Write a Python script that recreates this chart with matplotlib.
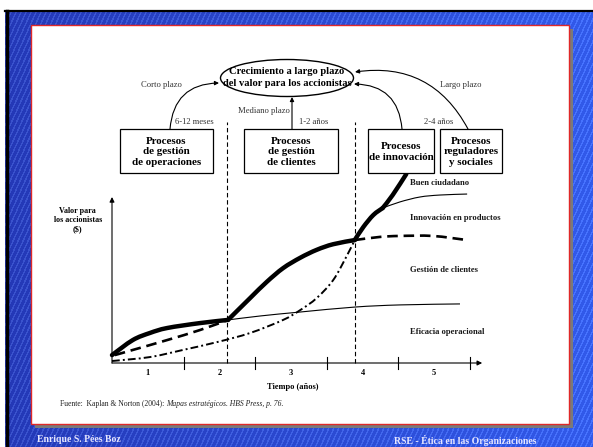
import numpy as np
import matplotlib
matplotlib.use("Agg")
import matplotlib.pyplot as plt
from matplotlib.patches import Rectangle, Ellipse, FancyArrowPatch, PathPatch
from matplotlib.path import Path

# ---------------- data (years, value index) ----------------
# thick envelope, split where it has corners
total_t = [0, 0.29, 0.53, 0.77, 1.23, 1.62, 1.93, 2.16, 2.39, 2.63, 2.86, 3.09, 3.39, 3.51, 3.65, 3.78, 3.92, 4.11]
total_v = [4.8, 13.9, 18.2, 21.2, 24.2, 26.1, 39.4, 49.1, 57.5, 63.8, 68.6, 72.0, 74.5, 82.4, 89.7, 93.9, 101.8, 114.5]
total_breaks = [5, 12, 15]

ops_t = [1.62, 2.07, 2.63, 3.39, 4.02, 4.86]
ops_v = [26.1, 28.5, 30.9, 33.9, 35.2, 35.8]

prod_t = [3.78, 4.02, 4.30, 4.58, 4.96]
prod_v = [93.9, 97.6, 100.6, 101.8, 102.4]

cli1_t = [0.04, 0.29, 0.77, 1.23, 1.62]
cli1_v = [4.8, 7.9, 13.9, 20.0, 26.1]
cli2_t = [3.39, 3.74, 4.02, 4.48, 4.96]
cli2_v = [74.5, 76.4, 77.0, 77.0, 74.5]

inn_t = [0, 0.53, 0.99, 1.47, 1.93, 2.39, 2.63, 2.86, 3.09, 3.28, 3.39]
inn_v = [1.2, 3.6, 7.9, 12.7, 18.2, 26.1, 32.1, 39.4, 50.3, 65.0, 74.5]

phase_t = [1.61, 3.39]
year_ticks = [1, 2, 3, 4, 5]
year_labels = ["1", "2", "3", "4", "5"]

curve_labels = ["Buen ciudadano", "Innovación en productos", "Gestión de clientes", "Eficacia operacional"]
box_labels = ["Procesos\nde gestión\nde operaciones", "Procesos\nde gestión\nde clientes",
              "Procesos\nde innovación", "Procesos\nreguladores\ny sociales"]


def smooth_path(xs, ys):
    """Catmull-Rom curve through the given points, as cubic Bezier path."""
    p = np.column_stack([xs, ys]).astype(float)
    verts = [p[0]]
    codes = [Path.MOVETO]
    n = len(p)
    for i in range(n - 1):
        p0 = p[i - 1] if i > 0 else p[i]
        p1, p2 = p[i], p[i + 1]
        p3 = p[i + 2] if i + 2 < n else p[i + 1]
        c1 = p1 + (p2 - p0) / 6.0
        c2 = p2 - (p3 - p1) / 6.0
        verts += [c1, c2, p2]
        codes += [Path.CURVE4] * 3
    return Path(verts, codes)


# ---------------- figure ----------------
W, H = 593, 447
fig = plt.figure(figsize=(W / 100, H / 100), dpi=100)
plt.rcParams['font.family'] = ['Liberation Serif', 'DejaVu Serif']

# background slide
bg = fig.add_axes([0, 0, 1, 1], zorder=0)
yy, xx = np.mgrid[0:H, 0:W]
fx = xx / W
r = 36 + 14 * fx
g = 56 + 34 * fx
b = 182 + 52 * fx
stripe = ((xx + 0.45 * yy) % 5.0) < 1.6
img = np.stack([r, g, b], axis=-1)
img[stripe] += np.array([22, 26, 22])
img = np.clip(img, 0, 255) / 255.0
img[:10, :, :] = 1.0
img[:, :5, :] = 1.0
bg.imshow(img, extent=(0, W, H, 0), interpolation='nearest', aspect='auto')
bg.set_xlim(0, W)
bg.set_ylim(H, 0)
bg.axis('off')
bg.plot([5, W], [11, 11], color='black', lw=1.6)
bg.plot([7, 7], [11, H], color='black', lw=2.5)
bg.add_patch(Rectangle((35, 29), 538, 399, facecolor='#7a7a7a', edgecolor='none'))
bg.add_patch(Rectangle((31, 25), 538, 399, facecolor='white', edgecolor='#e02828', lw=1.0))
bg.text(37, 440, "Enrique S. Pées Boz", color='#e6e6ff', fontsize=7, fontweight='bold', va='center', ha='left')
bg.text(536, 440, "RSE - Ética en las Organizaciones", color='#e6e6ff', fontsize=7, fontweight='bold',
        va='center', ha='right')
bg.text(60, 404, "Fuente:  Kaplan & Norton (2004):", fontsize=5.5, va='center', ha='left', color='#222222')
bg.text(166, 404, "Mapas estratégicos. HBS Press, p. 76.", fontsize=5.5, va='center', ha='left',
        style='italic', color='#222222')

# chart axes, data coordinates
ax = fig.add_axes([0, 0, 1, 1], zorder=1)
ax.patch.set_alpha(0)
ax.set_xlim(-112 / 71.6, (W - 112) / 71.6)
ax.set_ylim((363 - H) / 1.65, 363 / 1.65)
ax.axis('off')

ax.annotate("", xy=(5.17, 0), xytext=(0, 0),
            arrowprops=dict(arrowstyle='-|>', color='black', lw=0.8, mutation_scale=7, shrinkA=0, shrinkB=0))
ax.annotate("", xy=(0, 100.6), xytext=(0, 0),
            arrowprops=dict(arrowstyle='-|>', color='black', lw=0.8, mutation_scale=7, shrinkA=0, shrinkB=0))
for t in year_ticks:
    ax.plot([t, t], [-3.6, 3.6], color='black', lw=0.8)
for i, lab in enumerate(year_labels):
    ax.text(year_ticks[i] - 0.5, -6.3, lab, ha='center', va='center', fontsize=6, fontweight='bold')
ax.text(2.53, -14.5, "Tiempo (años)", ha='center', va='center', fontsize=6, fontweight='bold')
ax.text(-0.48, 86.7, "Valor para\nlos accionistas\n($)", ha='center', va='center', fontsize=5.8,
        fontweight='bold', linespacing=1.15)

for pt in phase_t:
    ax.plot([pt, pt], [0, 146], color='black', lw=0.8, ls=(0, (4, 2.5)))


def draw(xs, ys, **kw):
    ax.add_patch(PathPatch(smooth_path(xs, ys), fill=False, edgecolor='black', **kw))


draw(ops_t, ops_v, lw=0.8)
draw(prod_t, prod_v, lw=0.8)
draw(cli1_t, cli1_v, lw=1.9, ls=(0, (4, 2.2)))
draw(cli2_t, cli2_v, lw=1.9, ls=(0, (4, 2.2)))
draw(inn_t, inn_v, lw=1.4, ls=(0, (4, 1.6, 1, 1.6)))
idx = [0] + total_breaks + [len(total_t) - 1]
for a, b_ in zip(idx[:-1], idx[1:]):
    draw(total_t[a:b_ + 1], total_v[a:b_ + 1], lw=3.2, capstyle='round', joinstyle='round')

# overlay in pixel coordinates for the diagram
ov = fig.add_axes([0, 0, 1, 1], zorder=2)
ov.patch.set_alpha(0)
ov.set_xlim(0, W)
ov.set_ylim(H, 0)
ov.axis('off')

lab_y = [183, 218, 270, 332]
for lab, y in zip(curve_labels, lab_y):
    ov.text(410, y, lab, ha='left', va='center', fontsize=6.2, fontweight='bold', color='#1a1a1a')

ov.add_patch(Ellipse((287, 78), 133, 37, facecolor='white', edgecolor='black', lw=1.0))
ov.text(287, 72, "Crecimiento a largo plazo", ha='center', va='center', fontsize=7.6, fontweight='bold')
ov.text(287, 84, "del valor para los accionistas", ha='center', va='center', fontsize=7.6, fontweight='bold')

boxes = [(120, 213), (244, 338), (368, 434), (440, 502)]
for (x0, x1), lab in zip(boxes, box_labels):
    ov.add_patch(Rectangle((x0, 129), x1 - x0, 44, facecolor='white', edgecolor='black', lw=0.9))
    ov.text((x0 + x1) / 2, 152, lab, ha='center', va='center', fontsize=7.9, fontweight='bold',
            linespacing=1.15)

aprops = dict(arrowstyle='-|>', color='black', lw=0.8, mutation_scale=6, shrinkA=0, shrinkB=0)
ov.add_patch(FancyArrowPatch((170, 129), (219, 83), connectionstyle='arc3,rad=-0.45', **aprops))
ov.add_patch(FancyArrowPatch((292, 129), (292, 97), **aprops))
ov.add_patch(FancyArrowPatch((402, 129), (354, 84), connectionstyle='arc3,rad=0.45', **aprops))
ov.add_patch(FancyArrowPatch((468, 129), (355, 72), connectionstyle='arc3,rad=0.35', **aprops))

small = dict(fontsize=6.2, ha='center', va='center', color='#333333')
ov.text(161, 85, "Corto plazo", **small)
ov.text(461, 85, "Largo plazo", **small)
ov.text(264, 111, "Mediano plazo", **small)
ov.text(194, 122, "6-12 meses", **small)
ov.text(314, 122, "1-2 años", **small)
ov.text(439, 122, "2-4 años", **small)

fig.savefig("out.png", dpi=100)
